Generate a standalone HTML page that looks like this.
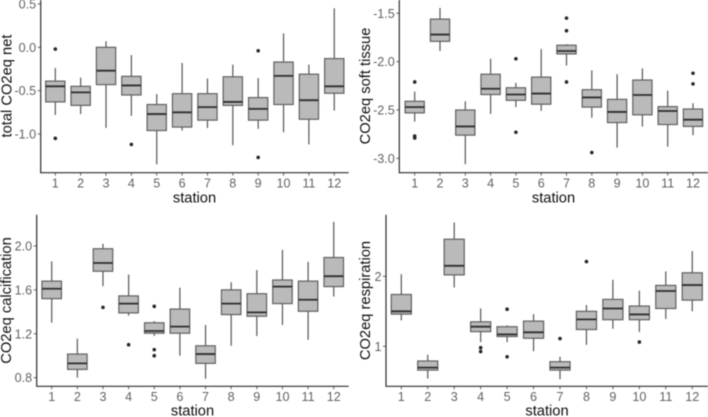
<!DOCTYPE html>
<html>
<head>
<meta charset="utf-8">
<style>
html,body{margin:0;padding:0;background:#fff;width:708px;height:417px;overflow:hidden}
svg{display:block;filter:blur(0.4px)}
text{font-family:"Liberation Sans",Arial,sans-serif}
.tick{font-size:12.6px;fill:#626262}
.title{font-size:14.7px;fill:#0e0e0e}
</style>
</head>
<body>
<svg id="chart" width="708" height="417" viewBox="0 0 708 417" xmlns="http://www.w3.org/2000/svg"></svg>
<script>
const stations = ['1','2','3','4','5','6','7','8','9','10','11','12'];

const netLow = [-0.78,-0.77,-0.93,-0.79,-1.35,-0.96,-0.93,-1.13,-0.94,-0.98,-1.12,-0.73];
const netQ1 = [-0.63,-0.67,-0.43,-0.55,-0.96,-0.92,-0.84,-0.67,-0.84,-0.66,-0.83,-0.53];
const netMedian = [-0.45,-0.52,-0.27,-0.44,-0.77,-0.75,-0.69,-0.63,-0.71,-0.33,-0.61,-0.45];
const netQ3 = [-0.39,-0.45,0.0,-0.335,-0.66,-0.535,-0.535,-0.34,-0.58,-0.17,-0.31,-0.13];
const netHigh = [-0.24,-0.35,0.07,-0.09,-0.54,-0.18,-0.36,-0.2,-0.355,0.16,-0.2,0.45];
const netOutliers = [[-0.02,-1.05],[],[],[-1.12],[],[],[],[],[-0.04,-1.27],[],[],[]];
const netTicks = [0.5,0.0,-0.5,-1.0];

const softLow = [-2.62,-1.89,-3.06,-2.54,-2.47,-2.51,-2.04,-2.58,-2.89,-2.67,-2.88,-2.76];
const softQ1 = [-2.53,-1.79,-2.76,-2.34,-2.4,-2.44,-1.92,-2.47,-2.63,-2.55,-2.65,-2.67];
const softMedian = [-2.47,-1.72,-2.67,-2.28,-2.34,-2.33,-1.89,-2.37,-2.52,-2.345,-2.51,-2.6];
const softQ3 = [-2.41,-1.56,-2.5,-2.13,-2.27,-2.16,-1.83,-2.29,-2.39,-2.19,-2.465,-2.49];
const softHigh = [-2.31,-1.445,-2.41,-1.97,-2.22,-1.87,-1.82,-2.09,-2.13,-2.07,-2.3,-2.43];
const softOutliers = [[-2.21,-2.77,-2.79],[],[],[],[-1.97,-2.73],[],[-1.55,-1.68,-2.21],[-2.94],[],[],[],[-2.12,-2.23]];
const softTicks = [-1.5,-2.0,-2.5,-3.0];

const calcLow = [1.30,0.80,1.635,1.365,1.18,1.0,0.79,1.09,1.18,1.28,1.145,1.54];
const calcQ1 = [1.52,0.875,1.77,1.39,1.205,1.205,0.93,1.375,1.36,1.475,1.405,1.63];
const calcMedian = [1.61,0.93,1.845,1.475,1.225,1.265,1.015,1.475,1.395,1.63,1.51,1.725];
const calcQ3 = [1.68,1.015,1.975,1.545,1.30,1.425,1.09,1.6,1.565,1.69,1.68,1.895];
const calcHigh = [1.86,1.155,2.02,1.74,1.315,1.62,1.28,1.67,1.78,1.965,1.855,2.22];
const calcOutliers = [[],[],[1.44],[1.10],[1.45,1.055,1.0],[],[],[],[],[],[],[]];
const calcTicks = [2.0,1.6,1.2,0.8];

const respLow = [1.37,0.54,1.84,1.06,1.06,0.93,0.53,1.02,1.25,1.205,1.39,1.5];
const respQ1 = [1.46,0.66,2.02,1.21,1.14,1.115,0.66,1.24,1.38,1.38,1.54,1.66];
const respMedian = [1.5,0.695,2.15,1.28,1.17,1.2,0.695,1.385,1.54,1.455,1.79,1.875];
const respQ3 = [1.74,0.79,2.53,1.35,1.28,1.36,0.78,1.5,1.67,1.575,1.87,2.05];
const respHigh = [2.03,0.88,2.77,1.54,1.3,1.46,0.85,1.59,1.95,1.795,2.07,2.36];
const respOutliers = [[],[],[],[0.98,0.925],[1.53,0.85],[],[1.11],[2.21],[],[1.06],[],[]];
const respTicks = [2,1];

const NS = 'http://www.w3.org/2000/svg';
const root = document.getElementById('chart');

function mk(parent, tag, attrs, text) {
  const el = document.createElementNS(NS, tag);
  for (const k in attrs) el.setAttribute(k, attrs[k]);
  if (text !== undefined) el.textContent = text;
  parent.appendChild(el);
  return el;
}

function drawPanel(p) {
  const xScale = i => p.x1 + i * p.step;
  const yScale = v => p.yRef - (v - p.vRef) * p.pxPerUnit;
  const bw = p.step * 0.76;

  const g = mk(root, 'g', {});
  
  

  stations.forEach((s, i) => {
    const x = xScale(i);
    const box = mk(g, 'g', {});
    
    

    const wh = mk(box, 'line', {x1: x, x2: x, y1: yScale(p.high[i]), y2: yScale(p.low[i]), stroke: '#555555', 'stroke-width': 1.2});
    
    

    const yTop = yScale(p.q3[i]);
    const yBot = yScale(p.q1[i]);
    const r = mk(box, 'rect', {x: x - bw / 2, y: yTop, width: bw, height: yBot - yTop, fill: '#bababa', stroke: '#606060', 'stroke-width': 1.2});
    
    

    const med = mk(box, 'line', {x1: x - bw / 2, x2: x + bw / 2, y1: yScale(p.median[i]), y2: yScale(p.median[i]), stroke: '#2e2e2e', 'stroke-width': 1.8});
    
    

    p.outliers[i].forEach(v => {
      const c = mk(box, 'circle', {cx: x, cy: yScale(v), r: 1.8, fill: '#262626'});
      
      
    });

    const tk = mk(g, 'line', {x1: x, x2: x, y1: p.bottom, y2: p.bottom + 3, stroke: '#555', 'stroke-width': 0.9});
    
    

    const lb = mk(g, 'text', {x: x, y: p.xLabelY, 'text-anchor': 'middle', class: 'tick'}, s);
    
    
  });

  p.ticks.forEach(v => {
    const y = yScale(v);
    const tk = mk(g, 'line', {x1: p.left - 3, x2: p.left, y1: y, y2: y, stroke: '#555', 'stroke-width': 0.9});
    
    

    const lb = mk(g, 'text', {x: p.left - 4.5, y: y + 4.5, 'text-anchor': 'end', class: 'tick'}, p.tickFormat(v));
    
    
  });

  const ya = mk(g, 'line', {x1: p.left, x2: p.left, y1: p.top, y2: p.bottom + 0.5, stroke: '#2b2b2b', 'stroke-width': 1.2});
  
  

  const xa = mk(g, 'line', {x1: p.left, x2: p.right, y1: p.bottom, y2: p.bottom, stroke: '#2b2b2b', 'stroke-width': 1.2});
  
  

  const xt = mk(g, 'text', {x: p.xTitleX, y: p.xTitleY, 'text-anchor': 'middle', class: 'title'}, 'station');
  
  

  const yt = mk(g, 'text', {transform: 'translate(' + p.yTitleX + ',' + p.yTitleY + ') rotate(-90)', 'text-anchor': 'middle', class: 'title'}, p.title);
  
  
}

const fmt1 = v => v.toFixed(1);
const fmt0 = v => String(v);

drawPanel({name: 'total-co2eq-net', title: 'total CO2eq net', x1: 55.3, step: 25.36, yRef: 47.3, vRef: 0, pxPerUnit: 86.7,
  left: 40.7, right: 348.7, top: 0, bottom: 172.7, xLabelY: 187.5, xTitleX: 194.5, xTitleY: 202.5, yTitleX: 11.5, yTitleY: 86,
  low: netLow, q1: netQ1, median: netMedian, q3: netQ3, high: netHigh, outliers: netOutliers, ticks: netTicks, tickFormat: fmt1});

drawPanel({name: 'co2eq-soft-tissue', title: 'CO2eq soft tissue', x1: 414.7, step: 25.3, yRef: 13.3, vRef: -1.5, pxPerUnit: 96.7,
  left: 399.3, right: 708, top: 0, bottom: 172.7, xLabelY: 187.5, xTitleX: 553.5, xTitleY: 202.5, yTitleX: 370, yTitleY: 86,
  low: softLow, q1: softQ1, median: softMedian, q3: softQ3, high: softHigh, outliers: softOutliers, ticks: softTicks, tickFormat: fmt1});

drawPanel({name: 'co2eq-calcification', title: 'CO2eq calcification', x1: 51.7, step: 25.64, yRef: 246, vRef: 2.0, pxPerUnit: 109.7,
  left: 36.7, right: 348.7, top: 214.7, bottom: 386.3, xLabelY: 401, xTitleX: 192.5, xTitleY: 415.5, yTitleX: 11, yTitleY: 300.5,
  low: calcLow, q1: calcQ1, median: calcMedian, q3: calcQ3, high: calcHigh, outliers: calcOutliers, ticks: calcTicks, tickFormat: fmt1});

drawPanel({name: 'co2eq-respiration', title: 'CO2eq respiration', x1: 401.3, step: 26.45, yRef: 276.3, vRef: 2, pxPerUnit: 70,
  left: 386, right: 708, top: 214.7, bottom: 386.3, xLabelY: 401, xTitleX: 547, xTitleY: 415.5, yTitleX: 370, yTitleY: 300.5,
  low: respLow, q1: respQ1, median: respMedian, q3: respQ3, high: respHigh, outliers: respOutliers, ticks: respTicks, tickFormat: fmt0});
</script>
</body>
</html>
